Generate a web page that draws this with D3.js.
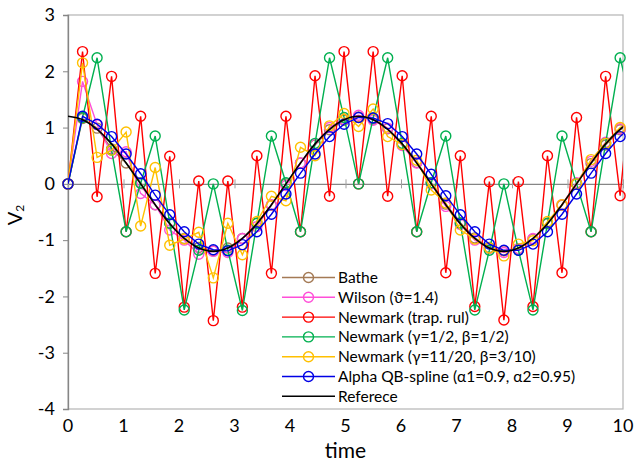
<!DOCTYPE html>
<html>
<head>
<meta charset="utf-8">
<script src="https://cdn.jsdelivr.net/npm/d3@7"></script>
<style>
  body { margin: 0; background: #fff; }
  text { font-family: Lato, "Open Sans", sans-serif; fill: #000; }
</style>
</head>
<body>
<script>
var margin = {top: 15, right: 12, bottom: 56, left: 68};
var width = 635 - margin.left - margin.right;
var height = 465 - margin.top - margin.bottom;

// time steps (dt ~ 0.2618), last one is past the axis end and gets clipped
var time = [0, 0.262, 0.524, 0.785, 1.047, 1.309, 1.571, 1.833, 2.094, 2.356,
    2.618, 2.880, 3.142, 3.403, 3.665, 3.927, 4.189, 4.451, 4.712, 4.974,
    5.236, 5.498, 5.760, 6.021, 6.283, 6.545, 6.807, 7.069, 7.330, 7.592,
    7.854, 8.116, 8.378, 8.639, 8.901, 9.163, 9.425, 9.687, 9.948, 10.21];

var bathe = [0, 1.16, 0.99, 0.62, 0.37, 0.02, -0.37, -0.70, -0.97, -1.13,
    -1.19, -1.14, -0.97, -0.70, -0.38, 0.0, 0.37, 0.69, 0.96, 1.13,
    1.19, 1.15, 0.98, 0.70, 0.38, 0.02, -0.36, -0.69, -0.96, -1.13,
    -1.19, -1.15, -0.98, -0.71, -0.38, 0.0, 0.36, 0.69, 0.96, 1.13];

var wilson = [0, 1.82, 1.05, 0.54, 0.57, -0.17, -0.37, -0.82, -1.0, -1.25,
    -1.2, -1.22, -0.97, -0.76, -0.37, -0.03, 0.37, 0.70, 1.0, 1.15,
    1.22, 1.13, 0.99, 0.68, 0.37, 0.0, -0.40, -0.72, -1.0, -1.15,
    -1.22, -1.15, -0.97, -0.70, -0.37, 0.02, 0.40, 0.74, 0.98, 1.14];

var trap = [0, 2.35, -0.23, 1.91, -0.85, 1.2, -1.59, 0.49, -2.19, 0.05,
    -2.43, 0.05, -2.19, 0.5, -1.59, 1.2, -0.85, 1.92, -0.22, 2.35,
    0.0, 2.35, -0.22, 1.92, -0.85, 1.2, -1.58, 0.5, -2.18, 0.04,
    -2.42, 0.04, -2.18, 0.5, -1.58, 1.18, -0.85, 1.91, -0.21, 2.35];

var nmHalf = [0, 1.18, 2.24, 0.6, -0.85, 0.01, 0.85, -0.7, -2.24, -1.18,
    0, -1.18, -2.25, -0.7, 0.85, 0.02, -0.85, 0.72, 2.24, 1.18,
    0, 1.17, 2.24, 0.72, -0.85, 0.02, 0.85, -0.7, -2.24, -1.18,
    0, -1.18, -2.24, -0.7, 0.85, 0.0, -0.85, 0.72, 2.24, 1.16];

var nm1120 = [0, 2.15, 0.47, 0.6, 0.92, -0.75, 0.29, -1.09, -0.98, -0.86,
    -1.67, -0.7, -1.26, -0.67, -0.22, -0.3, 0.65, 0.5, 1.03, 1.25,
    1.02, 1.33, 0.84, 0.70, 0.42, -0.11, -0.34, -0.82, -0.98, -1.14,
    -1.28, -1.07, -1.01, -0.67, -0.37, 0.0, 0.43, 0.72, 1.0, 1.14];

var qbspline = [0, 1.2, 1.06, 0.84, 0.53, 0.18, -0.2, -0.55, -0.85, -1.07,
    -1.17, -1.19, -1.08, -0.85, -0.54, -0.18, 0.19, 0.53, 0.84, 1.06,
    1.18, 1.17, 1.07, 0.84, 0.53, 0.17, -0.21, -0.55, -0.85, -1.07,
    -1.18, -1.18, -1.07, -0.85, -0.54, -0.18, 0.19, 0.54, 0.84, 1.06];

var reference = [1.2, 1.14, 0.97, 0.71, 0.37, 0, -0.37, -0.71, -0.97, -1.14,
    -1.2, -1.14, -0.97, -0.71, -0.37, 0, 0.37, 0.71, 0.97, 1.14,
    1.2, 1.14, 0.97, 0.71, 0.37, 0, -0.37, -0.71, -0.97, -1.14,
    -1.2, -1.14, -0.97, -0.71, -0.37, 0, 0.37, 0.71, 0.97, 1.14];

var xTicks = [0, 1, 2, 3, 4, 5, 6, 7, 8, 9, 10];
var yTicks = [-4, -3, -2, -1, 0, 1, 2, 3];

var seriesNames = ["Bathe", "Wilson (\u03D1=1.4)", "Newmark (trap. rul)",
    "Newmark (\u03B3=1/2, \u03B2=1/2)", "Newmark (\u03B3=11/20, \u03B2=3/10)",
    "Alpha QB-spline (\u03B11=0.9, \u03B12=0.95)", "Referece"];
var seriesValues = [bathe, wilson, trap, nmHalf, nm1120, qbspline, reference];
var seriesColors = ["#A47A55", "#FF4FD8", "#FF0000", "#00B050", "#FFC000", "#0000E6", "#000000"];
var seriesMarkers = [true, true, true, true, true, true, false];

var svg = d3.select("body").append("svg")
    .attr("width", width + margin.left + margin.right)
    .attr("height", height + margin.top + margin.bottom);

var g = svg.append("g")
    .attr("transform", "translate(" + margin.left + "," + margin.top + ")");

var x = d3.scaleLinear().domain([0, 10]).range([0, width]);
var y = d3.scaleLinear().domain([-4, 3]).range([height, 0]);

svg.append("defs").append("clipPath").attr("id", "plotclip")
    .append("rect")
    .attr("x", 0).attr("y", -10)
    .attr("width", width).attr("height", height + 20);

// plot area border
g.append("rect")
    .attr("width", width)
    .attr("height", height)
    .attr("fill", "none")
    .attr("stroke", "#b4b4b4")
    .attr("stroke-width", 1.2);

// y axis, ticks outside
var yAxis = g.append("g")
    .call(d3.axisLeft(y).tickValues(yTicks).tickSize(5).tickFormat(d3.format("d")));
yAxis.select(".domain").attr("stroke", "#868686").attr("stroke-width", 1.3);
yAxis.selectAll(".tick line").attr("stroke", "#868686");
yAxis.selectAll(".tick text")
    .attr("x", -13)
    .style("font-size", "18px")
    .style("font-family", "Lato, sans-serif")
    .text(function (d) { return d < 0 ? "-" + Math.abs(d) : d; });

// x axis crosses at 0, ticks cross the line
var xAxis = g.append("g")
    .attr("transform", "translate(0," + y(0) + ")")
    .call(d3.axisBottom(x).tickValues(xTicks).tickSizeInner(0).tickSizeOuter(0).tickFormat(""));
xAxis.select(".domain").attr("stroke", "#868686").attr("stroke-width", 1.3);
xAxis.selectAll(".tick").append("line")
    .attr("y1", -4.5).attr("y2", 4.5)
    .attr("stroke", "#a0a0a0");

// tick labels at bottom
g.append("g").selectAll("text")
    .data(xTicks)
    .enter()
    .append("text")
    .attr("x", function (d) { return x(d); })
    .attr("y", height + 23)
    .attr("text-anchor", "middle")
    .style("font-size", "18px")
    .text(function (d) { return d; });

// axis titles
g.append("text")
    .attr("x", width / 2)
    .attr("y", height + 49)
    .attr("text-anchor", "middle")
    .style("font-size", "21px")
    .text("time");

var yTitle = svg.append("text")
    .attr("transform", "translate(22," + (margin.top + height / 2 + 3) + ") rotate(-90)")
    .attr("text-anchor", "middle")
    .style("font-size", "20px");
yTitle.append("tspan").text("V");
yTitle.append("tspan").attr("dy", 2).style("font-size", "12px").text("2");

// series: lines then markers
var line = d3.line()
    .x(function (d) { return x(d[0]); })
    .y(function (d) { return y(d[1]); });

var smooth = d3.line()
    .curve(d3.curveCatmullRom)
    .x(function (d) { return x(d[0]); })
    .y(function (d) { return y(d[1]); });

for (let i = 0; i < seriesValues.length; i++) {
    var pts = time.map(function (t, j) { return [t, seriesValues[i][j]]; });
    var s = g.append("g").attr("class", "series");

    s.append("path")
        .attr("d", seriesMarkers[i] ? line(pts) : smooth(pts))
        .attr("clip-path", "url(#plotclip)")
        .attr("fill", "none")
        .attr("stroke", seriesColors[i])
        .attr("stroke-width", i == 6 ? 1.6 : 1.4);

    if (seriesMarkers[i]) {
        s.selectAll("circle")
            .data(pts.filter(function (p) { return p[0] <= 10; }))
            .enter()
            .append("circle")
            .attr("cx", function (d) { return x(d[0]); })
            .attr("cy", function (d) { return y(d[1]); })
            .attr("r", 5)
            .attr("fill", "none")
            .attr("stroke", seriesColors[i])
            .attr("stroke-width", 1.4);
    }
}

// legend
var legend = svg.append("g").attr("transform", "translate(282,277.5)");
for (let i = 0; i < seriesNames.length; i++) {
    var row = legend.append("g").attr("transform", "translate(0," + (i * 19.8) + ")");
    row.append("line")
        .attr("x1", 0).attr("x2", 53)
        .attr("stroke", seriesColors[i])
        .attr("stroke-width", 1.4);
    if (seriesMarkers[i]) {
        row.append("circle")
            .attr("cx", 26.5).attr("r", 5)
            .attr("fill", "none")
            .attr("stroke", seriesColors[i])
            .attr("stroke-width", 1.4);
    }
    row.append("text")
        .attr("x", 56)
        .attr("dy", "0.36em")
        .style("font-size", "15.5px")
        .text(seriesNames[i]);
}
</script>
</body>
</html>
